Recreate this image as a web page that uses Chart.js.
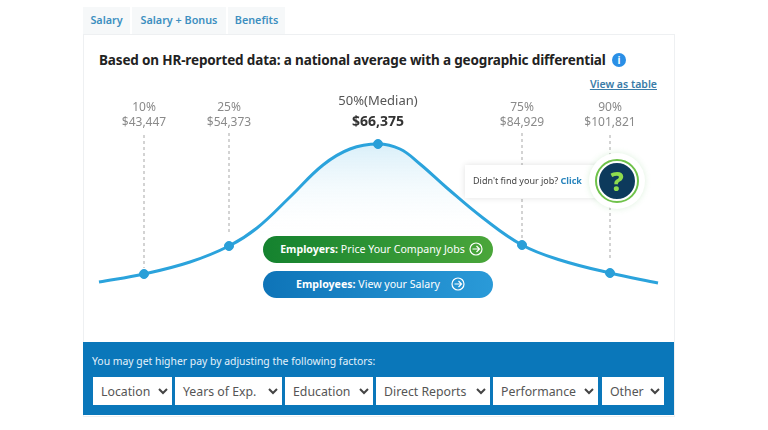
<!DOCTYPE html>
<html>
<head>
<meta charset="utf-8">
<script src="https://cdn.jsdelivr.net/npm/chart.js@4"></script>
<style>
  html, body { margin: 0; padding: 0; background: #fff; }
  body { width: 768px; height: 430px; position: relative; overflow: hidden; font-family: "Noto Sans", sans-serif; }
  .abs { position: absolute; white-space: nowrap; }
  .tab { position: absolute; top: 7px; height: 27px; line-height: 26px; background: #f6f8f9; color: #3d8fc0; font-size: 10.8px; font-weight: 600; text-align: center; }
  #card { position: absolute; left: 83px; top: 34px; width: 590px; height: 381px; border: 1px solid #eef0f2; box-sizing: content-box; }
  #title { left: 99px; top: 51px; font-size: 13.5px; letter-spacing: -0.15px; font-weight: 700; color: #222; }
  #info { position: absolute; left: 612px; top: 53px; width: 14px; height: 14px; border-radius: 50%; background: #2a8fe6; color: #fff; font-size: 10px; font-weight: 700; line-height: 14px; text-align: center; }
  #viewTable { right: 111px; top: 77px; font-size: 10.5px; font-weight: 600; color: #3a7ca8; text-decoration: underline; }
  #chartBox { position: absolute; left: 83px; top: 90px; width: 591px; height: 220px; }
  .btn { position: absolute; left: 263px; width: 230px; height: 27px; line-height: 26px; border-radius: 14px; color: #fff; font-size: 10.6px; text-align: center; box-sizing: border-box; }
  .btn b { font-weight: 700; }
  .btn svg { vertical-align: -3px; }
  #btnGreen { top: 236px; padding-left: 7px; background: linear-gradient(90deg, #14822f, #4aa63a); }
  #btnGreen svg { margin-left: 4px; }
  #btnBlue { top: 271px; padding-left: 5px; background: linear-gradient(90deg, #0e74b8, #2a9ad8); }
  #btnBlue svg { margin-left: 11px; }
  #popup { position: absolute; left: 465px; top: 165px; width: 140px; height: 33px; background: #fff; box-shadow: 0 0 6px rgba(0,0,0,.12); font-size: 9px; line-height: 32px; color: #444; padding-left: 8px; box-sizing: border-box; }
  #popup b { color: #2a85bd; }
  #halo { position: absolute; left: 589px; top: 153px; width: 56px; height: 56px; border-radius: 50%; background: #fff; box-shadow: 0 0 6px rgba(90,190,90,.2); }
  #help { position: absolute; left: 596px; top: 160px; width: 42px; height: 42px; box-sizing: border-box; border-radius: 50%; background: #0d3a5c; border: 3px solid #fff; outline: 2px solid #6fc24a; outline-offset: -1px; color: #8fdc4e; font-size: 27px; font-weight: 800; line-height: 35px; text-align: center; }
  #factors { position: absolute; left: 83px; top: 342px; width: 591px; height: 73px; background: #0a77ba; }
  #factorsLabel { left: 92px; top: 354px; color: #e4f2fb; font-size: 10.4px; }
  .sel { position: absolute; top: 377px; height: 28px; line-height: 29px; background: #fff; color: #555; font-size: 12.3px; padding-left: 8px; box-sizing: border-box; }
  .sel svg { position: absolute; right: 4px; top: 10px; }
</style>
</head>
<body>
<div class="tab" style="left:83px;width:47px">Salary</div>
<div class="tab" style="left:132px;width:94px">Salary + Bonus</div>
<div class="tab" style="left:228px;width:57px">Benefits</div>
<div id="card"></div>
<div id="title" class="abs">Based on HR-reported data: a national average with a geographic differential</div>
<div id="info">i</div>
<div id="viewTable" class="abs">View as table</div>
<div id="chartBox"><canvas id="salaryChart"></canvas></div>
<div id="btnGreen" class="btn"><b>Employers:</b> Price Your Company Jobs<svg width="14" height="14" viewBox="0 0 14 14" fill="none" stroke="#fff" stroke-width="1.2"><circle cx="7" cy="7" r="6"/><path d="M3.5 7h7M7.5 4l3 3-3 3"/></svg></div>
<div id="btnBlue" class="btn"><b>Employees:</b> View your Salary<svg width="14" height="14" viewBox="0 0 14 14" fill="none" stroke="#fff" stroke-width="1.2"><circle cx="7" cy="7" r="6"/><path d="M3.5 7h7M7.5 4l3 3-3 3"/></svg></div>
<div id="popup">Didn't find your job? <b>Click</b></div>
<div id="halo"></div>
<div id="help">?</div>
<div id="factors"></div>
<div id="factorsLabel" class="abs">You may get higher pay by adjusting the following factors:</div>
<div id="selects"></div>
<script>
// curve, x = position along the axis, y = curve height
const curveX = [0, 45, 91, 130, 158, 191, 224, 251, 279, 301, 321, 348, 384, 423, 461, 511, 559];
const curveY = [28, 36, 48, 64, 82, 113, 145, 161, 166, 161, 146, 122, 92, 65, 50, 37, 27];

const percentiles = ["10%", "25%", "50%(Median)", "75%", "90%"];
const salaries = ["$43,447", "$54,373", "$66,375", "$84,929", "$101,821"];
const percentileX = [45, 130, 279, 423, 511];
const percentileY = [36, 64, 166, 65, 37];
const dropTop = [175, 177, 166, 177, 175];
const dropBottom = [42, 78, 166, 70, 50];

const factorNames = ["Location", "Years of Exp.", "Education", "Direct Reports", "Performance", "Other"];
const factorLeft = [93, 175, 285, 376, 493, 602];
const factorWidth = [79, 107, 88, 114, 105, 62];

factorNames.forEach((name, i) => {
  const d = document.createElement("div");
  d.className = "sel";
  d.style.left = factorLeft[i] + "px";
  d.style.width = factorWidth[i] + "px";
  d.innerHTML = name + '<svg width="10" height="8" viewBox="0 0 10 8" fill="none" stroke="#444" stroke-width="2"><path d="M1 2l4 4 4-4"/></svg>';
  document.getElementById("selects").appendChild(d);
});

const percentileLabels = {
  id: "percentileLabels",
  afterDatasetsDraw(chart) {
    const { ctx, scales } = chart;
    ctx.save();
    ctx.textAlign = "center";
    percentiles.forEach((p, i) => {
      const x = scales.x.getPixelForValue(percentileX[i]);
      if (i === 2) {
        ctx.fillStyle = "#555";
        ctx.font = "13px 'Noto Sans'";
        ctx.fillText(p, x, 15);
        ctx.fillStyle = "#333";
        ctx.font = "bold 14px 'Noto Sans'";
        ctx.fillText(salaries[i], x, 36);
      } else {
        ctx.fillStyle = "#8a8a8a";
        ctx.font = "12px 'Noto Sans'";
        ctx.fillText(p, x, 21);
        ctx.fillText(salaries[i], x, 36);
      }
    });
    ctx.restore();
  }
};

const drops = percentileX.map((x, i) => ({
  data: [{ x: x, y: dropTop[i] }, { x: x, y: dropBottom[i] }],
  borderColor: i === 2 ? "transparent" : "#a8a8a8",
  borderWidth: 1,
  borderDash: [3, 3],
  pointRadius: 0,
  fill: false
}));

new Chart(document.getElementById("salaryChart"), {
  type: "line",
  data: {
    datasets: [
      {
        data: percentileX.map((x, i) => ({ x: x, y: percentileY[i] })),
        showLine: false,
        pointRadius: 4.5,
        pointBackgroundColor: "#2a9fd8",
        pointBorderColor: "#2a9fd8",
        clip: false
      },
      {
        data: curveX.map((x, i) => ({ x: x, y: curveY[i] })),
        borderColor: "#2ba3dc",
        borderWidth: 3,
        tension: 0.4,
        pointRadius: 0,
        clip: false,
        fill: "origin",
        backgroundColor: (c) => {
          const area = c.chart.chartArea;
          if (!area) return "transparent";
          const g = c.chart.ctx.createLinearGradient(0, area.top + 54, 0, area.top + 150);
          g.addColorStop(0, "#d9eff9");
          g.addColorStop(1, "rgba(255,255,255,0)");
          return g;
        }
      },
      ...drops
    ]
  },
  options: {
    responsive: true,
    maintainAspectRatio: false,
    animation: false,
    layout: { padding: 0, autoPadding: false },
    plugins: { legend: { display: false }, tooltip: { enabled: false } },
    scales: {
      x: { type: "linear", min: -16, max: 575, display: false },
      y: { min: 0, max: 220, display: false }
    }
  },
  plugins: [percentileLabels]
});
</script>
</body>
</html>
